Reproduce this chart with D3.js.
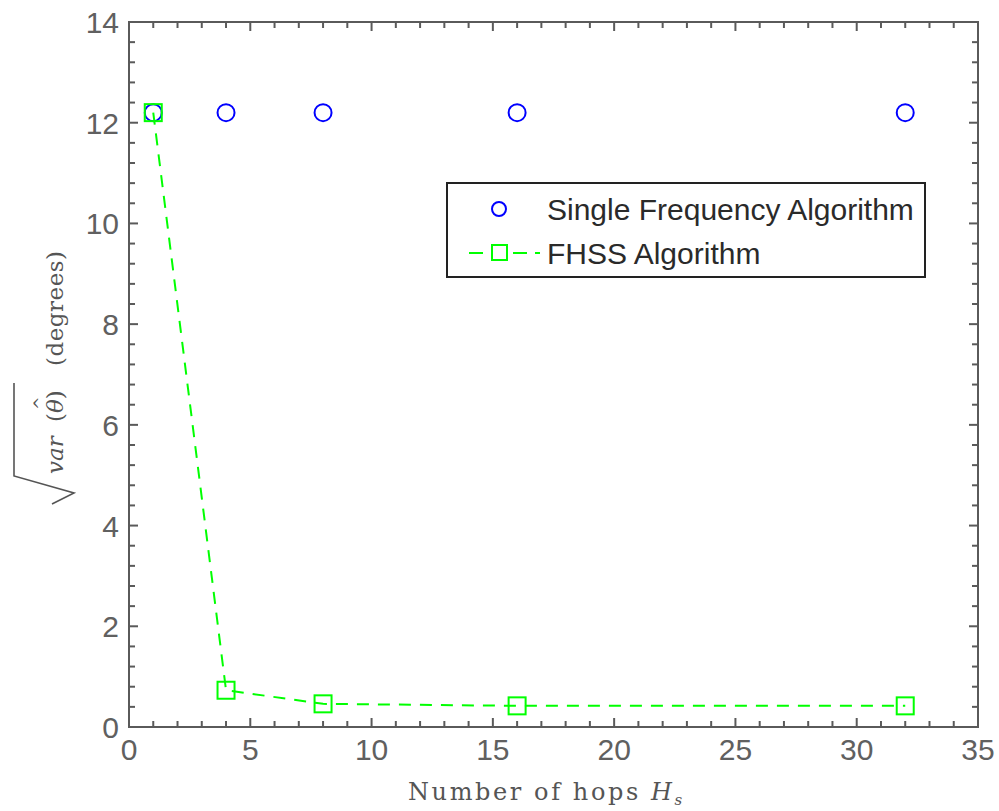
<!DOCTYPE html>
<html>
<head>
<meta charset="utf-8">
<script src="https://cdn.jsdelivr.net/npm/d3@7"></script>
<style>
  body { margin: 0; background: #fff; }
  svg { display: block; }
  .tick-label { font-family: "Liberation Sans", Arial, sans-serif; fill: #606060; }
  .axis-label { font-family: "DejaVu Serif", "Liberation Serif", serif; fill: #555; }
</style>
</head>
<body>
<svg id="chart" width="999" height="811"></svg>
<script>
// data
const hops = [1, 4, 8, 16, 32]
const singleFreq = [12.2, 12.2, 12.2, 12.2, 12.2]
const fhss = [12.2, 0.73, 0.46, 0.42, 0.42]
const xTicks = [0, 5, 10, 15, 20, 25, 30, 35]
const yTicks = [0, 2, 4, 6, 8, 10, 12, 14]
const seriesNames = ["Single Frequency Algorithm", "FHSS Algorithm"]

const margin = { top: 22, right: 21, bottom: 84, left: 129 }
const W = 999, H = 811
const width = W - margin.left - margin.right
const height = H - margin.top - margin.bottom

const svg = d3.select("#chart")
const g = svg.append("g").attr("transform", `translate(${margin.left},${margin.top})`)

const x = d3.scaleLinear().domain([0, 35]).range([0, width])
const y = d3.scaleLinear().domain([0, 14]).range([height, 0])

const axisColor = "#5a5a5a"

// minor + major ticks, pointing inward, on all four sides
const xMinor = d3.range(0, 35.001, 1)
const yMinor = d3.range(0, 14.001, 0.4)
const tickLen = t => (xTicks.includes(t) ? 9 : 6)
const yTickLen = t => (yTicks.some(v => Math.abs(v - t) < 1e-6) ? 9 : 6)

const ticks = g.append("g").attr("stroke", axisColor).attr("stroke-width", 2)
xMinor.forEach(t => {
  ticks.append("line").attr("x1", x(t)).attr("x2", x(t)).attr("y1", height).attr("y2", height - tickLen(t))
  ticks.append("line").attr("x1", x(t)).attr("x2", x(t)).attr("y1", 0).attr("y2", tickLen(t))
})
yMinor.forEach(t => {
  ticks.append("line").attr("x1", 0).attr("x2", yTickLen(t)).attr("y1", y(t)).attr("y2", y(t))
  ticks.append("line").attr("x1", width).attr("x2", width - yTickLen(t)).attr("y1", y(t)).attr("y2", y(t))
})

// frame
g.append("rect")
  .attr("x", 0).attr("y", 0)
  .attr("width", width).attr("height", height)
  .attr("fill", "none")
  .attr("stroke", axisColor)
  .attr("stroke-width", 2)

// tick labels
g.selectAll(".xl")
  .data(xTicks)
  .enter()
  .append("text")
  .attr("class", "tick-label")
  .attr("x", d => x(d))
  .attr("y", height + 33)
  .attr("text-anchor", "middle")
  .attr("font-size", "30px")
  .text(d => d)

g.selectAll(".yl")
  .data(yTicks)
  .enter()
  .append("text")
  .attr("class", "tick-label")
  .attr("x", -10)
  .attr("y", d => y(d) + 11)
  .attr("text-anchor", "end")
  .attr("font-size", "30px")
  .text(d => d)

// x axis label
const xl = svg.append("text")
  .attr("class", "axis-label")
  .attr("x", 408)
  .attr("y", 800)
  .attr("font-size", "24px")
  .attr("letter-spacing", "2.6px")
xl.append("tspan").text("Number of hops ")
xl.append("tspan").attr("font-style", "italic").text("H")
xl.append("tspan").attr("font-style", "italic").attr("font-size", "15px").attr("dy", 5).text("s")

// y axis label (rotated), with radical sign
svg.append("path")
  .attr("d", "M 14 383 L 14 476 L 74 493 L 52 504")
  .attr("fill", "none")
  .attr("stroke", "#555")
  .attr("stroke-width", 1.6)
const yl = svg.append("g").attr("transform", "translate(63,474) rotate(-90)")
yl.append("text")
  .attr("class", "axis-label")
  .attr("x", 0).attr("y", 0)
  .attr("font-size", "23px")
  .attr("font-style", "italic")
  .text("var")
yl.append("text")
  .attr("class", "axis-label")
  .attr("x", 52).attr("y", 0)
  .attr("font-size", "23px")
  .html("(<tspan font-style='italic'>θ</tspan>)")
yl.append("text")
  .attr("class", "axis-label")
  .attr("x", 64).attr("y", -17)
  .attr("font-size", "16px")
  .text("^")
yl.append("text")
  .attr("class", "axis-label")
  .attr("x", 108).attr("y", 0)
  .attr("font-size", "23px")
  .attr("letter-spacing", "0.5px")
  .text("(degrees)")

// single frequency circles (drawn under the squares)
g.selectAll(".circ")
  .data(hops.map((h, i) => [h, singleFreq[i]]))
  .enter()
  .append("circle")
  .attr("cx", d => x(d[0]))
  .attr("cy", d => y(d[1]))
  .attr("r", 8.5)
  .attr("fill", "none")
  .attr("stroke", "#0000ff")
  .attr("stroke-width", 2)

// FHSS dashed line + squares
const line = d3.line().x(d => x(d[0])).y(d => y(d[1]))
g.append("path")
  .datum(hops.map((h, i) => [h, fhss[i]]))
  .attr("d", line)
  .attr("fill", "none")
  .attr("stroke", "#00ff00")
  .attr("stroke-width", 2)
  .attr("stroke-dasharray", "12,9")

const sq = 17
g.selectAll(".sq")
  .data(hops.map((h, i) => [h, fhss[i]]))
  .enter()
  .append("rect")
  .attr("x", d => x(d[0]) - sq / 2)
  .attr("y", d => y(d[1]) - sq / 2)
  .attr("width", sq)
  .attr("height", sq)
  .attr("fill", "none")
  .attr("stroke", "#00ff00")
  .attr("stroke-width", 2)

// legend
const lg = svg.append("g").attr("transform", "translate(447,183)")
lg.append("rect")
  .attr("width", 478).attr("height", 94)
  .attr("fill", "#fff")
  .attr("stroke", "#222")
  .attr("stroke-width", 2)
lg.append("circle")
  .attr("cx", 52).attr("cy", 26).attr("r", 7)
  .attr("fill", "none").attr("stroke", "#0000ff").attr("stroke-width", 2)
lg.append("line")
  .attr("x1", 22).attr("x2", 93).attr("y1", 70).attr("y2", 70)
  .attr("stroke", "#00ff00").attr("stroke-width", 2).attr("stroke-dasharray", "14,8")
lg.append("rect")
  .attr("x", 45).attr("y", 62).attr("width", 15).attr("height", 15)
  .attr("fill", "#fff").attr("stroke", "#00ff00").attr("stroke-width", 2)
lg.selectAll(".lt")
  .data(seriesNames)
  .enter()
  .append("text")
  .attr("x", 100)
  .attr("y", (d, i) => 37 + i * 44)
  .attr("font-family", "Liberation Sans, Arial, sans-serif")
  .attr("font-size", "30px")
  .attr("fill", "#2a2a2a")
  .text(d => d)
</script>
</body>
</html>
